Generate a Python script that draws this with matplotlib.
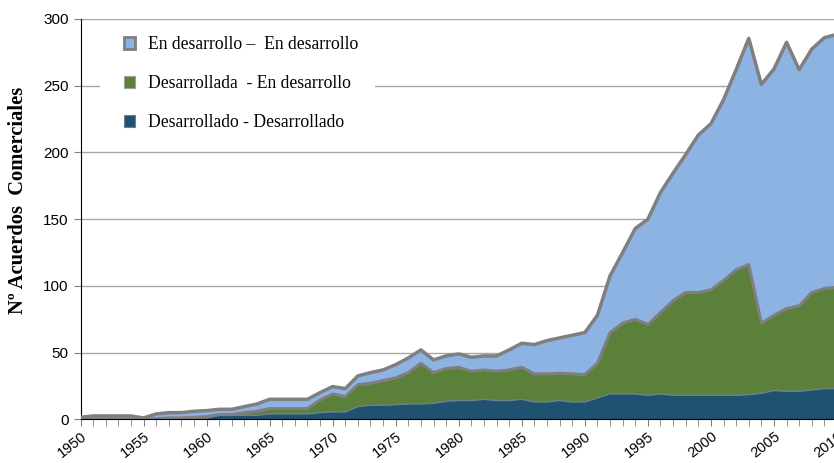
import matplotlib.pyplot as plt
import numpy as np
from matplotlib.patches import Patch, Rectangle
from matplotlib.ticker import MultipleLocator

# agreements per year, 1950-2010
years = list(range(1950, 2011))

desarrollado_desarrollado = [
    0, 0, 0, 0, 0, 0, 0, 0, 0.5, 1,
    1, 3, 3, 3, 3, 4, 4, 4, 4, 5,
    5.5, 5.5, 9.5, 10.5, 10.5, 11, 11.5, 11.5, 12, 13.5,
    14, 14, 15, 14, 14, 15, 13, 13, 14, 13,
    13, 16, 19, 19, 19, 18, 19, 18, 18, 18,
    18, 18, 18, 18.5, 19.5, 21.5, 21, 21, 22, 23,
    23,
]
desarrollada_en_desarrollo = [
    0, 0, 0, 0, 0, 0, 0.5, 1, 0.5, 0.5,
    1, 0.5, 0.5, 2, 3, 4, 4, 4, 4, 9.5,
    13.5, 11.5, 16.5, 16.5, 18.5, 20, 23.5, 30.5, 23, 24.5,
    25, 22, 22, 22, 23, 24, 21, 21, 20.5, 21,
    20.5, 26, 46, 53, 56, 53, 61, 71, 77, 77,
    79, 86, 94, 97.5, 52.5, 56.5, 62, 64, 73, 75,
    76,
]
en_desarrollo_en_desarrollo = [
    1.5, 2.5, 2.5, 2.5, 2.5, 1, 3.5, 4, 4, 4.5,
    4.5, 4, 4, 4.5, 5.5, 7, 7, 7, 7, 5.5,
    5.5, 6, 6.5, 8, 8, 10, 11, 10, 9.5, 9.5,
    10, 10.5, 10.5, 11.5, 15, 18, 22, 25, 26.5, 29,
    31.5, 36, 42.5, 53, 68, 79, 90, 95.5, 103.5, 118,
    124.5, 135.5, 150, 169.5, 179, 184.5, 199.5, 177, 182.5, 188,
    189.5,
]

labels = ['Desarrollado - Desarrollado', 'Desarrollada  - En desarrollo',
          'En desarrollo \u2013  En desarrollo']
colors = ['#1F5170', '#5B803A', '#8DB3E2']
edge = '#7F7F7F'

W, H = 834, 463
fig = plt.figure(figsize=(W / 100, H / 100), dpi=100)
# plot area runs a little past the right edge, as in the original crop
ax = fig.add_axes([80.5 / W, 1 - 419.3 / H, (837 - 80.5) / W, 400.3 / H])

ax.stackplot(years, desarrollado_desarrollado, desarrollada_en_desarrollo,
             en_desarrollo_en_desarrollo, colors=colors, linewidth=0, zorder=2)

cum1 = np.array(desarrollado_desarrollado)
cum2 = cum1 + np.array(desarrollada_en_desarrollo)
cum3 = cum2 + np.array(en_desarrollo_en_desarrollo)
ax.plot(years, cum1, color='#6E8090', lw=1.0, zorder=3)
ax.plot(years, cum2, color=edge, lw=2.2, zorder=3)
ax.plot(years, cum3, color=edge, lw=2.5, zorder=3)

ax.set_xlim(1950, 2010)
ax.set_ylim(0, 300)
ax.yaxis.set_major_locator(MultipleLocator(50))
ax.xaxis.set_major_locator(MultipleLocator(5))
ax.xaxis.set_minor_locator(MultipleLocator(1))
ax.grid(axis='y', color='#A6A6A6', lw=1, zorder=0)
ax.set_axisbelow(True)

for side in ['top', 'right']:
    ax.spines[side].set_visible(False)
ax.spines['left'].set_color('black')
ax.spines['bottom'].set_color('black')
ax.spines['bottom'].set_zorder(4)

ax.tick_params(axis='y', length=5, color='#808080', labelsize=11)
ax.tick_params(axis='x', which='major', length=5, color='#808080',
               labelsize=10.5, pad=2)
ax.tick_params(axis='x', which='minor', length=5, color='#808080')
for lab in ax.get_xticklabels():
    lab.set_rotation(38)
    lab.set_ha('right')
    lab.set_rotation_mode('anchor')
for lab in ax.get_xticklabels() + ax.get_yticklabels():
    lab.set_family('Liberation Sans')

fig.text(18 / W, 1 - 200 / H, 'N\u00ba Acuerdos  Comerciales', rotation=90,
         ha='center', va='center', family='Liberation Serif', fontweight='bold',
         fontsize=14.8)

# white box behind the legend hides the gridline there
ax.add_patch(Rectangle((100 / W, 1 - 145 / H), 275 / W, 118 / H,
                       transform=fig.transFigure, facecolor='white',
                       edgecolor='none', zorder=1))

handles = [
    Patch(facecolor=colors[2], edgecolor=edge, linewidth=2),
    Patch(facecolor=colors[1], edgecolor='#9AA58F', linewidth=0.8),
    Patch(facecolor=colors[0], edgecolor='#6E8090', linewidth=0.8),
]
leg = ax.legend(handles, labels[::-1], loc='upper left',
                bbox_to_anchor=(124 / W, 1 - 36 / H),
                bbox_transform=fig.transFigure, frameon=False,
                handlelength=0.65, handleheight=0.65, handletextpad=0.7,
                labelspacing=1.25, borderpad=0, borderaxespad=0,
                prop={'family': 'Liberation Serif', 'size': 12.7})
leg.set_zorder(5)

fig.savefig('out.png', dpi=100)
